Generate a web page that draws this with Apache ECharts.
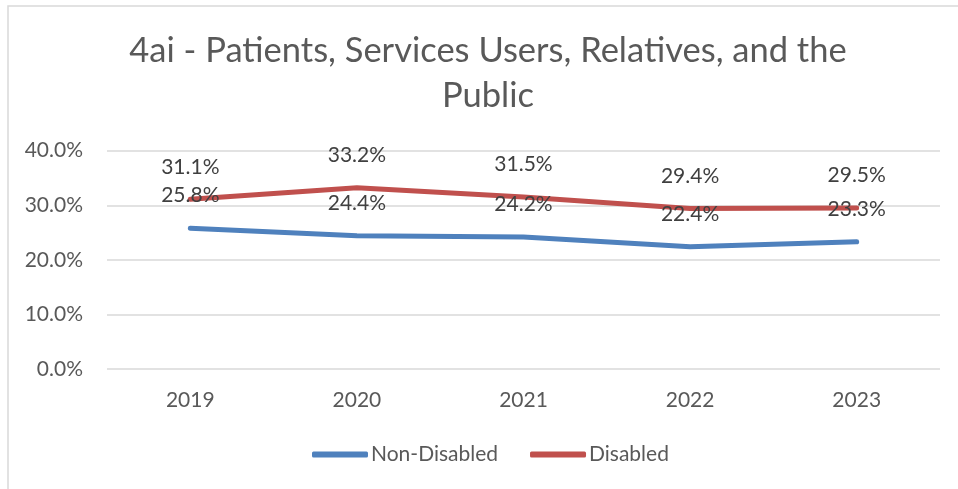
<!DOCTYPE html>
<html>
<head>
<meta charset="utf-8">
<script src="https://cdn.jsdelivr.net/npm/echarts@6/dist/echarts.min.js"></script>
<style>
  html, body { margin: 0; padding: 0; background: #fff; }
  #chart { width: 958px; height: 489px; }
</style>
</head>
<body>
<div id="chart"></div>
<script>
// Survey years and percentage shares per group
const years = ['2019', '2020', '2021', '2022', '2023'];
const nonDisabled = [25.8, 24.4, 24.2, 22.4, 23.3];
const disabled = [31.1, 33.2, 31.5, 29.4, 29.5];
const yTicks = { min: 0, max: 40, interval: 10 };

const textColor = '#595959';
const fontFamily = 'Lato, "Open Sans", sans-serif';

const chart = echarts.init(document.getElementById('chart'), null, { renderer: 'canvas' });

function pctLabel(p) { return p.value.toFixed(1) + '%'; }

function lineSeries(name, data, color, z) {
  return {
    name: name,
    type: 'line',
    data: data,
    symbol: 'circle',
    symbolSize: 0.001,
    showSymbol: true,
    color: color,
    itemStyle: { color: color },
    lineStyle: { width: 5, color: color, cap: 'round', join: 'round' },
    label: {
      show: true, position: 'top', distance: 22,
      formatter: pctLabel, color: '#404040', fontSize: 21, fontFamily: fontFamily
    },
    z: z
  };
}

chart.setOption({
  backgroundColor: '#ffffff',
  animation: false,
  textStyle: { fontFamily: fontFamily },
  graphic: [{
    type: 'rect',
    shape: { x: 8, y: 6, width: 1000, height: 600 },
    style: { fill: 'none', stroke: '#d9d9d9', lineWidth: 1.5 },
    silent: true,
    z: -1
  }, {
    // two-line chart title, centred on x = 488
    type: 'text',
    x: 488,
    y: 28,
    style: {
      text: '4ai - Patients, Services Users, Relatives, and the\nPublic',
      fill: textColor,
      font: 'normal 34.5px ' + fontFamily,
      lineHeight: 45,
      align: 'center',
      verticalAlign: 'top'
    }
  }],
  legend: {
    bottom: 24,
    left: 312,
    padding: 0,
    itemWidth: 56,
    itemHeight: 6,
    itemGap: 32,
    textStyle: { fontSize: 21, color: textColor, fontFamily: fontFamily, padding: [0, 0, 0, -2] },
    data: [
      { name: 'Non-Disabled', icon: 'roundRect' },
      { name: 'Disabled', icon: 'roundRect' }
    ]
  },
  grid: { left: 107, right: 18, top: 150.7, bottom: 120, containLabel: false },
  xAxis: {
    type: 'category',
    data: years,
    boundaryGap: true,
    axisLine: { show: false },
    axisTick: { show: false },
    axisLabel: { color: textColor, fontSize: 21, margin: 21, fontFamily: fontFamily }
  },
  yAxis: {
    type: 'value',
    min: yTicks.min,
    max: yTicks.max,
    interval: yTicks.interval,
    axisLine: { show: false },
    axisTick: { show: false },
    axisLabel: {
      color: textColor, fontSize: 21, margin: 24, fontFamily: fontFamily,
      formatter: v => v.toFixed(1) + '%'
    },
    splitLine: { lineStyle: { color: '#d9d9d9', width: 1.5 } }
  },
  series: [
    lineSeries('Non-Disabled', nonDisabled, '#4f81bd', 3),
    lineSeries('Disabled', disabled, '#c0504d', 2)
  ]
});
</script>
</body>
</html>
